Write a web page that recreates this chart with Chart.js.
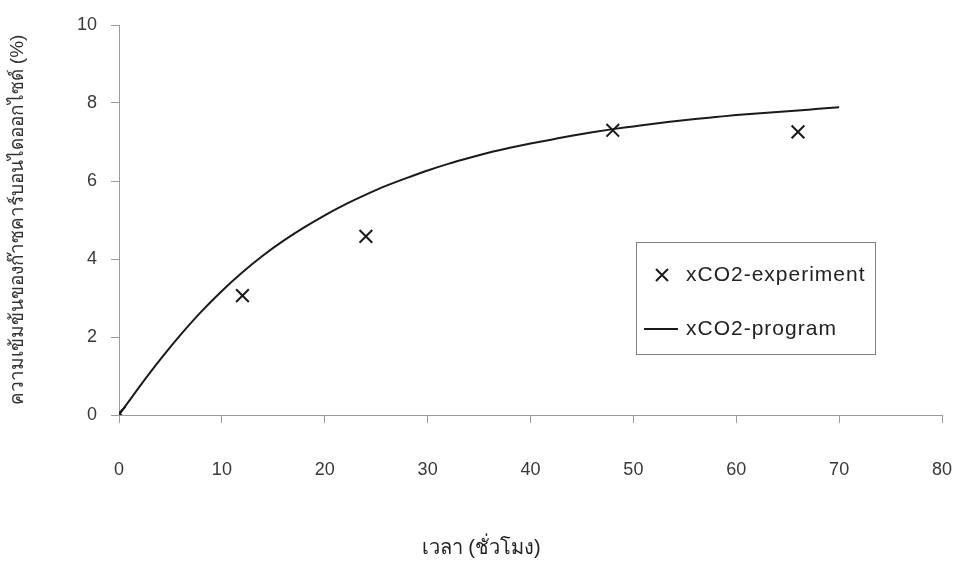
<!DOCTYPE html>
<html>
<head>
<meta charset="utf-8">
<script src="https://cdn.jsdelivr.net/npm/chart.js@4.4.0/dist/chart.umd.min.js"></script>
<style>
  html, body { margin: 0; padding: 0; background: #fff; }
  #wrap { width: 955px; height: 576px; position: relative; }
</style>
</head>
<body>
<div id="wrap"><canvas id="c" width="955" height="576"></canvas></div>
<script>
// Measured CO2 concentration (%) against time (h)
const hours = [0, 12, 24, 48, 66];
const co2Experiment = [0.05, 3.06, 4.58, 7.30, 7.26];

// Simulated CO2 concentration (%) from the program
const programHours = [0, 2, 4, 6, 8, 10, 12, 14, 16, 18, 20, 22, 24, 26, 28, 30, 32, 34,
                      36, 38, 40, 42, 44, 46, 48, 50, 52, 54, 56, 58, 60, 62, 64, 66, 68, 70];
const co2Program = [0, 0.73, 1.42, 2.06, 2.65, 3.18, 3.66, 4.09, 4.47, 4.81, 5.12, 5.40,
                    5.65, 5.88, 6.08, 6.27, 6.44, 6.59, 6.73, 6.85, 6.96, 7.06, 7.16, 7.25,
                    7.33, 7.40, 7.47, 7.53, 7.59, 7.64, 7.69, 7.73, 7.77, 7.81, 7.85, 7.89];

const xTickValues = [0, 10, 20, 30, 40, 50, 60, 70, 80];
const yTickValues = [0, 2, 4, 6, 8, 10];
const seriesNames = ['xCO2-experiment', 'xCO2-program'];
const xAxisTitle = 'เวลา (ชั่วโมง)';
const yAxisTitle = 'ความเข้มข้นของก๊าซคาร์บอนไดออกไซด์ (%)';

const INK = '#1a1a1a';
const AXIS = '#9a9a9a';
const LABEL = '#383838';
const FAMILY = '"Liberation Sans", Arial, sans-serif';

const experimentPoints = hours.map((h, i) => ({ x: h, y: co2Experiment[i] }));
const programPoints = programHours.map((h, i) => ({ x: h, y: co2Program[i] }));

// Boxed legend drawn inside the plot area, plus the time caption under the axis
const insetLegend = {
  id: 'insetLegend',
  afterDraw(chart) {
    const { ctx, chartArea: a } = chart;
    const ds = chart.data.datasets;
    const left = a.left + 517, top = a.top + 217, w = 239, h = 112;
    ctx.save();
    ctx.strokeStyle = '#808080';
    ctx.lineWidth = 1;
    ctx.strokeRect(left + 0.5, top + 0.5, w, h);

    ctx.font = '21px ' + FAMILY;
    ctx.fillStyle = '#222';
    ctx.textBaseline = 'middle';
    ctx.textAlign = 'left';
    if ('letterSpacing' in ctx) ctx.letterSpacing = '1px';

    ctx.strokeStyle = INK;
    ctx.lineWidth = 2;

    // experiment entry: diagonal cross marker
    const y1 = top + 33, cx = left + 26, r = 6;
    ctx.beginPath();
    ctx.moveTo(cx - r, y1 - r); ctx.lineTo(cx + r, y1 + r);
    ctx.moveTo(cx + r, y1 - r); ctx.lineTo(cx - r, y1 + r);
    ctx.stroke();
    ctx.fillText(ds[0].label, left + 50, y1);

    // program entry: short line sample
    const y2 = top + 87;
    ctx.beginPath();
    ctx.moveTo(left + 8, y2); ctx.lineTo(left + 42, y2);
    ctx.stroke();
    ctx.fillText(ds[1].label, left + 50, y2);
    ctx.restore();

    // time axis caption
    ctx.save();
    ctx.font = '20px ' + FAMILY;
    ctx.fillStyle = '#222';
    ctx.textAlign = 'center';
    ctx.textBaseline = 'middle';
    ctx.fillText(xAxisTitle, a.left + (a.right - a.left) * 0.44, a.bottom + 133);
    ctx.restore();
  }
};

new Chart(document.getElementById('c'), {
  type: 'scatter',
  data: {
    datasets: [
      {
        label: seriesNames[0],
        data: experimentPoints,
        showLine: false,
        pointStyle: 'crossRot',
        pointRadius: 9,
        pointBorderWidth: 2,
        borderColor: INK,
        backgroundColor: INK,
        order: 0
      },
      {
        label: seriesNames[1],
        data: programPoints,
        showLine: true,
        pointRadius: 0,
        borderColor: INK,
        borderWidth: 2,
        cubicInterpolationMode: 'monotone',
        fill: false,
        order: 1
      }
    ]
  },
  options: {
    responsive: false,
    animation: false,
    devicePixelRatio: 1,
    layout: { padding: { top: 25, right: 13, bottom: 0, left: 0 } },
    plugins: {
      legend: { display: false },
      tooltip: { enabled: false }
    },
    scales: {
      x: {
        type: 'linear',
        min: 0,
        max: 80,
        afterBuildTicks: s => { s.ticks = xTickValues.map(v => ({ value: v })); },
        afterFit: s => { s.height = 161; s.paddingLeft = 0; s.paddingRight = 0; },
        ticks: {
          color: LABEL,
          font: { family: FAMILY, size: 18 },
          padding: 36,
          maxRotation: 0
        },
        grid: { drawOnChartArea: false, drawTicks: true, tickLength: 8, color: AXIS },
        border: { display: true, color: AXIS, width: 1 }
      },
      y: {
        type: 'linear',
        min: 0,
        max: 10,
        afterBuildTicks: s => { s.ticks = yTickValues.map(v => ({ value: v })); },
        afterFit: s => { s.width = 119; },
        ticks: {
          color: LABEL,
          font: { family: FAMILY, size: 18 },
          padding: 14
        },
        grid: { drawOnChartArea: false, drawTicks: true, tickLength: 8, color: AXIS },
        border: { display: true, color: AXIS, width: 1 },
        title: {
          display: true,
          text: yAxisTitle,
          color: '#333',
          font: { family: FAMILY, size: 19 },
          padding: { top: 6, bottom: 0 }
        }
      }
    }
  },
  plugins: [insetLegend]
});
</script>
</body>
</html>
